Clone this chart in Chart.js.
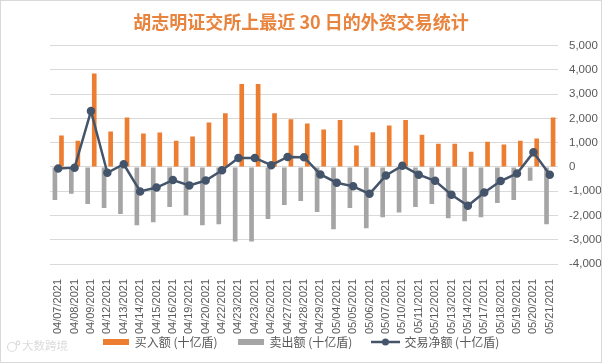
<!DOCTYPE html>
<html>
<head>
<meta charset="utf-8">
<script src="https://cdn.jsdelivr.net/npm/chart.js@4"></script>
<style>
  html, body { margin: 0; padding: 0; background: #fff; }
  #wrap { width: 602px; height: 363px; box-sizing: border-box; border: 1px solid #d9d9d9; position: relative; }
</style>
</head>
<body>
<div id="wrap"><canvas id="chart"></canvas></div>
<script>
// 日期
const dates = ['04/07/2021', '04/08/2021', '04/09/2021', '04/12/2021', '04/13/2021', '04/14/2021',
  '04/15/2021', '04/16/2021', '04/19/2021', '04/20/2021', '04/22/2021', '04/23/2021', '04/23/2021',
  '04/26/2021', '04/27/2021', '04/28/2021', '04/29/2021', '05/04/2021', '05/05/2021', '05/06/2021',
  '05/07/2021', '05/10/2021', '05/11/2021', '05/12/2021', '05/13/2021', '05/14/2021', '05/17/2021',
  '05/18/2021', '05/19/2021', '05/20/2021', '05/21/2021'];

// 买入额 (十亿盾)
const buyValues = [1300, 1080, 3850, 1460, 2040, 1380, 1420, 1080, 1250, 1830, 2210, 3420, 3420,
  2210, 1960, 1790, 1540, 1930, 880, 1430, 1710, 1930, 1330, 960, 960, 625, 1040, 920, 1080, 1170, 2040];

// 卖出额 (十亿盾)
const sellValues = [-1360, -1110, -1530, -1690, -1940, -2400, -2280, -1650, -1990, -2400, -2360, -3070, -3070,
  -2150, -1570, -1400, -1860, -2570, -1690, -2530, -2070, -1880, -1650, -1530, -2110, -2240, -2070,
  -1490, -1360, -570, -2360];

// 交易净额 (十亿盾)
const netValues = [-60, -30, 2300, -240, 110, -1010, -850, -540, -760, -560, -140, 370, 370,
  70, 410, 400, -310, -650, -800, -1110, -350, 50, -320, -570, -1150, -1600, -1050,
  -580, -270, 600, -320];

const yTicks = { min: -4000, max: 5000, step: 1000 };

const orange = '#ED7D31';
const gray = '#A5A5A5';
const navy = '#44546A';
const textColor = '#595959';
const cjk = "'Noto Sans CJK SC', 'Noto Sans', sans-serif";

// legend icons
function boxIcon(color) {
  const c = document.createElement('canvas');
  c.width = 26; c.height = 6;
  const ctx = c.getContext('2d');
  ctx.fillStyle = color;
  ctx.fillRect(0, 0, 26, 6);
  return c;
}
function lineIcon() {
  const c = document.createElement('canvas');
  c.width = 29; c.height = 8;
  const ctx = c.getContext('2d');
  ctx.strokeStyle = navy;
  ctx.lineWidth = 2.5;
  ctx.beginPath();
  ctx.moveTo(0, 4); ctx.lineTo(29, 4);
  ctx.stroke();
  ctx.fillStyle = navy;
  ctx.beginPath();
  ctx.arc(14.5, 4, 3.5, 0, Math.PI * 2);
  ctx.fill();
  return c;
}
const icons = [boxIcon(orange), boxIcon(gray), lineIcon()];

// faint watermark in the corner
const watermark = {
  id: 'watermark',
  afterDraw(chart) {
    const ctx = chart.ctx;
    ctx.save();
    ctx.fillStyle = '#dcdcdc';
    ctx.font = '11.5px ' + cjk;
    ctx.textBaseline = 'middle';
    ctx.fillText('大数跨境', 21, 345);
    ctx.strokeStyle = '#dcdcdc';
    ctx.lineWidth = 1.2;
    ctx.beginPath();
    ctx.arc(11, 346, 4.5, 0, Math.PI * 2);
    ctx.stroke();
    ctx.beginPath();
    ctx.arc(17, 342, 1.8, 0, Math.PI * 2);
    ctx.stroke();
    ctx.restore();
  }
};

new Chart(document.getElementById('chart'), {
  data: {
    labels: dates,
    datasets: [
      {
        type: 'bar',
        label: '买入额 (十亿盾)',
        data: buyValues,
        backgroundColor: orange,
        order: 2,
        categoryPercentage: 0.8,
        barPercentage: 0.71
      },
      {
        type: 'bar',
        label: '卖出额 (十亿盾)',
        data: sellValues,
        backgroundColor: gray,
        order: 1,
        categoryPercentage: 0.8,
        barPercentage: 0.71
      },
      {
        type: 'line',
        label: '交易净额 (十亿盾)',
        data: netValues,
        borderColor: navy,
        backgroundColor: navy,
        borderWidth: 2.5,
        pointRadius: 3,
        pointBackgroundColor: navy,
        pointBorderColor: navy,
        tension: 0,
        order: 0
      }
    ]
  },
  options: {
    responsive: true,
    maintainAspectRatio: false,
    animation: false,
    layout: { padding: { left: 0, right: 0, top: 0, bottom: 4 } },
    scales: {
      x: {
        grid: { display: false },
        border: { display: false },
        ticks: {
          minRotation: 90,
          maxRotation: 90,
          autoSkip: false,
          padding: 7,
          color: textColor,
          font: { family: "'Liberation Sans', sans-serif", size: 11 }
        },
        afterFit(scale) {
          scale.height = 52;
          // let the date labels run into the legend's empty top strip
          scale._computeLabelArea = () => undefined;
        }
      },
      y: {
        position: 'right',
        min: yTicks.min,
        max: yTicks.max,
        grid: { color: '#d9d9d9', lineWidth: 1, drawTicks: false },
        border: { display: false },
        ticks: {
          stepSize: yTicks.step,
          padding: 11,
          color: textColor,
          font: { family: "'Liberation Sans', sans-serif", size: 11.5 },
          callback: v => v.toLocaleString('en-US')
        },
        afterFit(scale) { scale.width = 43; }
      },
      // empty left gutter so title and legend centre on the whole width
      gutter: {
        type: 'linear',
        position: 'left',
        grid: { display: false },
        border: { display: false },
        ticks: { display: false },
        afterFit(scale) { scale.width = 49; }
      }
    },
    plugins: {
      title: {
        display: true,
        text: '胡志明证交所上最近 30 日的外资交易统计',
        color: '#E8843E',
        font: { family: cjk, size: 18, weight: 'bold' },
        padding: { top: 10, bottom: 13 }
      },
      legend: {
        position: 'bottom',
        labels: {
          usePointStyle: true,
          pointStyleWidth: 26,
          color: textColor,
          padding: 20,
          font: { family: cjk, size: 12 },
          sort: (a, b) => a.datasetIndex - b.datasetIndex,
          generateLabels(chart) {
            const items = Chart.defaults.plugins.legend.labels.generateLabels(chart);
            items.forEach(it => { it.pointStyle = icons[it.datasetIndex]; });
            return items;
          }
        }
      },
      tooltip: { enabled: false }
    }
  },
  plugins: [watermark]
});
</script>
</body>
</html>
